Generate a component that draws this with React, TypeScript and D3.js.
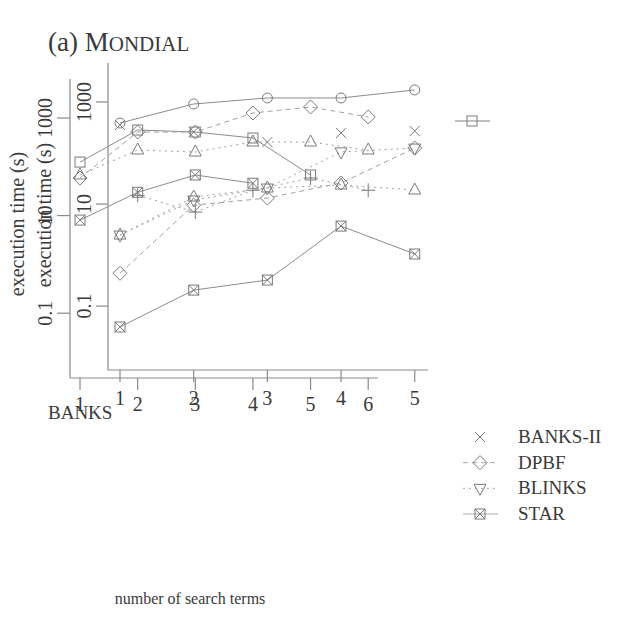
import React from 'react';
import * as d3 from 'd3';

// number of search terms (two overlapping panels)
const termsA = [1, 2, 3, 4, 5, 6];
const termsB = [1, 2, 3, 4, 5];
const tickLabelsA = ['1', '2', '3', '4', '5', '6'];
const tickLabelsB = ['1', '2', '3', '4', '5'];
const yTicks = [0.1, 10, 1000];
const yTickLabels = ['0.1', '10', '1000'];

// panel A series (execution time, s)
const banksA = [125, 568, 516, 389, 68];
const starA = [8.1, 30, 68, 46];
const triUpA = [68, 221, 201, 322, 322, 221];
const diamondA = [59, 516, 516, 1266, 1683, 1048];
const plusA = [null, 26, 11.8, 33, 59, 33];

// panel B series
const circleB = [387, 913, 1198, 1198, 1720];
const banks2B = [354, 258, 164, 247, 270];
const dpbfB = [0.44, 9.5, 13.1, 25.8, 125];
const blinksB = [2.47, 12, 20.6, 105, 125];
const triUpB = [2.47, 13.7, 20.6, 23.6, 18.8];
const starB = [0.039, 0.206, 0.324, 3.7, 1.05];

const legendNames = ['BANKS-II', 'DPBF', 'BLINKS', 'STAR'];

const FONT = '"Liberation Serif", "DejaVu Serif", serif';
const GREY = '#8a8a8a';
const TEXT = '#3a3a3a';

const Marker = ({ type, x, y }: { type: string; x: number; y: number }) => {
  const common = { fill: 'none', stroke: '#7a7a7a', strokeWidth: 1 };
  const t = `translate(${x},${y})`;
  switch (type) {
    case 'circle':
      return <circle cx={x} cy={y} r={5} {...common} />;
    case 'square':
      return <rect x={x - 5} y={y - 5} width={10} height={10} {...common} />;
    case 'boxx':
      return (
        <g transform={t} {...common}>
          <rect x={-5} y={-5} width={10} height={10} />
          <path d="M-5,-5L5,5M5,-5L-5,5" />
        </g>
      );
    case 'triup':
      return <path transform={t} d="M0,-7L6,4L-6,4Z" {...common} />;
    case 'tridown':
      return <path transform={t} d="M0,7L6,-4L-6,-4Z" {...common} />;
    case 'diamond':
      return <path transform={t} d="M0,-7L7,0L0,7L-7,0Z" {...common} />;
    case 'cross':
      return <path transform={t} d="M-5,-5L5,5M5,-5L-5,5" {...common} />;
    case 'plus':
      return <path transform={t} d="M-7,0L7,0M0,-7L0,7" {...common} />;
    default:
      return null;
  }
};

const App = () => {
  const xA = d3.scaleLinear().domain([0.826, 6.17]).range([70, 378]);
  const yA = d3.scaleLog().domain([0.0047, 6300]).range([378, 79]);
  const xB = d3.scaleLinear().domain([0.837, 5.18]).range([108, 428]);
  const yB = d3.scaleLog().domain([0.0056, 5800]).range([370, 63]);

  const seriesA = [
    { vals: banksA, marker: 'square', dash: null },
    { vals: starA, marker: 'boxx', dash: null },
    { vals: triUpA, marker: 'triup', dash: '2,4' },
    { vals: diamondA, marker: 'diamond', dash: '5,4' },
    { vals: plusA, marker: 'plus', dash: '2,4' },
  ];
  const seriesB = [
    { vals: circleB, marker: 'circle', dash: null },
    { vals: banks2B, marker: 'cross', dash: 'none' },
    { vals: dpbfB, marker: 'diamond', dash: '5,4' },
    { vals: blinksB, marker: 'tridown', dash: '2,4' },
    { vals: triUpB, marker: 'triup', dash: '2,4' },
    { vals: starB, marker: 'boxx', dash: null },
  ];

  const drawSeries = (
    series: any[],
    terms: number[],
    x: d3.ScaleLinear<number, number>,
    y: d3.ScaleLogarithmic<number, number>,
    key: string
  ) =>
    series.map((s, i) => {
      const pts = s.vals
        .map((v: number | null, j: number) => (v == null ? null : [x(terms[j]), y(v)]))
        .filter((p: any) => p);
      const line = d3.line<number[]>().x((p) => p[0]).y((p) => p[1]);
      return (
        <g key={`${key}${i}`}>
          {s.dash !== 'none' && (
            <path
              d={line(pts) || ''}
              fill="none"
              stroke={s.dash ? '#a0a0a0' : '#8c8c8c'}
              strokeWidth={1}
              strokeDasharray={s.dash || undefined}
            />
          )}
          {pts.map((p: number[], j: number) => (
            <Marker key={j} type={s.marker} x={p[0]} y={p[1]} />
          ))}
        </g>
      );
    });

  const legendY = d3.scaleLinear().domain([0, 3]).range([437, 514]);
  const legendStyles = [
    { marker: 'cross', dash: 'none' },
    { marker: 'diamond', dash: '5,4' },
    { marker: 'tridown', dash: '2,4' },
    { marker: 'boxx', dash: null },
  ];

  return (
    <svg
      width={619}
      height={626}
      style={{ position: 'absolute', left: 0, top: 0, background: '#fff' }}
      fontFamily={FONT}
    >
      {/* title */}
      <text x={48} y={51} fontSize={27} fill={TEXT}>
        (a) M<tspan fontSize={21}>ONDIAL</tspan>
      </text>

      {/* panel A axes */}
      <g stroke={GREY} strokeWidth={1.2}>
        <line x1={70} x2={70} y1={79} y2={378} />
        <line x1={70} x2={378} y1={378} y2={378} />
        {yTicks.map((t) => (
          <line key={t} x1={57} x2={70} y1={yA(t)} y2={yA(t)} />
        ))}
        {termsA.map((t) => (
          <line key={t} x1={xA(t)} x2={xA(t)} y1={378} y2={390} />
        ))}
      </g>
      {/* panel B axes */}
      <g stroke={GREY} strokeWidth={1.2}>
        <line x1={108} x2={108} y1={63} y2={370} />
        <line x1={108} x2={428} y1={370} y2={370} />
        {yTicks.map((t) => (
          <line key={t} x1={96} x2={108} y1={yB(t)} y2={yB(t)} />
        ))}
        {termsB.map((t) => (
          <line key={t} x1={xB(t)} x2={xB(t)} y1={370} y2={382} />
        ))}
      </g>

      {/* y tick labels */}
      {yTicks.map((t, i) => (
        <text
          key={`ya${t}`}
          transform={`translate(52,${yA(t)}) rotate(-90)`}
          textAnchor="middle"
          fontSize={20}
          fill={TEXT}
        >
          {yTickLabels[i]}
        </text>
      ))}
      {yTicks.map((t, i) => (
        <text
          key={`yb${t}`}
          transform={`translate(91,${yB(t)}) rotate(-90)`}
          textAnchor="middle"
          fontSize={20}
          fill={TEXT}
        >
          {yTickLabels[i]}
        </text>
      ))}
      {/* y titles */}
      <text transform="translate(24,224) rotate(-90)" textAnchor="middle" fontSize={20} fill={TEXT}>
        execution time (s)
      </text>
      <text transform="translate(51,215) rotate(-90)" textAnchor="middle" fontSize={20} fill={TEXT}>
        execution time (s)
      </text>

      {/* x tick labels */}
      {termsA.map((t, i) => (
        <text key={`xa${t}`} x={xA(t)} y={411} textAnchor="middle" fontSize={20} fill={TEXT}>
          {tickLabelsA[i]}
        </text>
      ))}
      {termsB.map((t, i) => (
        <text key={`xb${t}`} x={xB(t)} y={405} textAnchor="middle" fontSize={20} fill={TEXT}>
          {tickLabelsB[i]}
        </text>
      ))}

      {/* data */}
      {drawSeries(seriesA, termsA, xA, yA, 'a')}
      {drawSeries(seriesB, termsB, xB, yB, 'b')}

      {/* BANKS legend (split) */}
      <line x1={455} x2={490} y1={121} y2={121} stroke="#aaa" strokeWidth={1.5} />
      <Marker type="square" x={472} y={121} />
      <text x={48} y={419} fontSize={19} fill={TEXT}>
        BANKS
      </text>

      {/* legend */}
      {legendNames.map((name, i) => {
        const ly = legendY(i);
        const st = legendStyles[i];
        return (
          <g key={name}>
            {st.dash !== 'none' && (
              <line
                x1={463}
                x2={498}
                y1={ly}
                y2={ly}
                stroke="#aaa"
                strokeWidth={1}
                strokeDasharray={st.dash || undefined}
              />
            )}
            <Marker type={st.marker} x={480} y={ly} />
            <text x={518} y={ly + 6} fontSize={19} fill={TEXT}>
              {name}
            </text>
          </g>
        );
      })}

      <text x={190} y={604} textAnchor="middle" fontSize={16} fill={TEXT}>
        number of search terms
      </text>
    </svg>
  );
};

export default App;
